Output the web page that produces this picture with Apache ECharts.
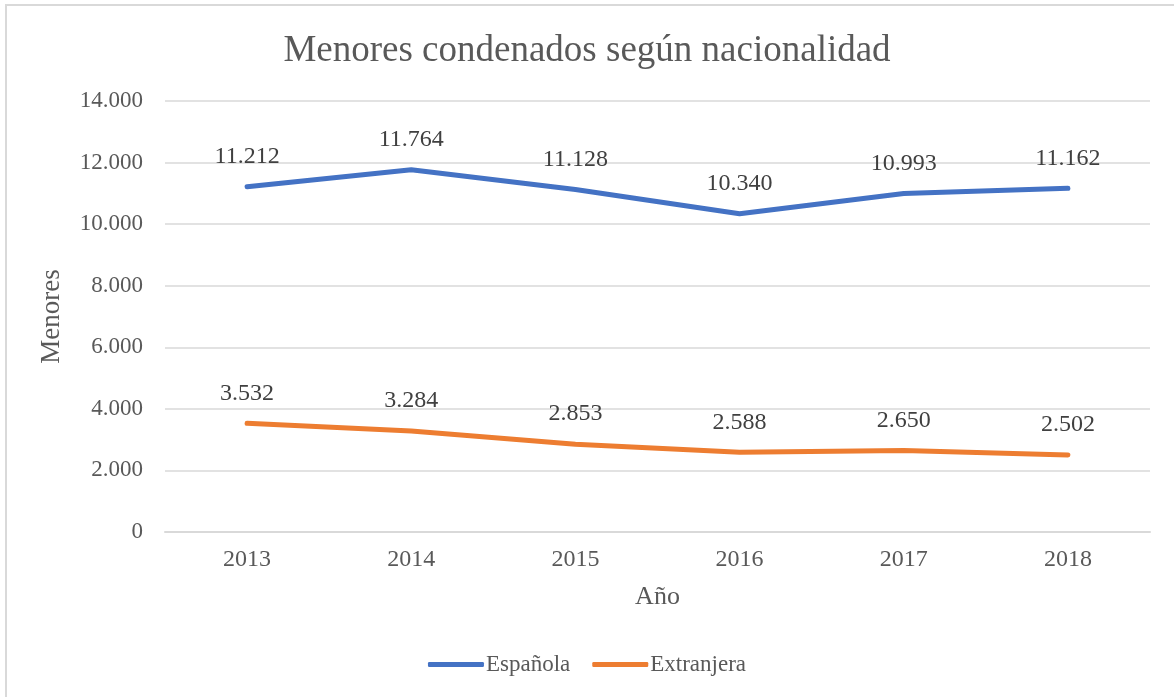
<!DOCTYPE html>
<html>
<head>
<meta charset="utf-8">
<script src="https://cdn.jsdelivr.net/npm/echarts@6/dist/echarts.min.js"></script>
<style>
  html, body { margin: 0; padding: 0; background: #fff; }
  #chart { width: 1174px; height: 697px; }
</style>
</head>
<body>
<div id="chart"></div>
<script>
const years = ['2013', '2014', '2015', '2016', '2017', '2018']
const espanola = [11212, 11764, 11128, 10340, 10993, 11162]
const extranjera = [3532, 3284, 2853, 2588, 2650, 2502]

// formato con punto de miles
const fmt = v => String(v).replace(/\B(?=(\d{3})+(?!\d))/g, '.')

const font = 'Liberation Serif'
const txt = '#595959'

const chart = echarts.init(document.getElementById('chart'))
const labelCfg = {
  show: true,
  position: 'top',
  distance: 18,
  fontFamily: font,
  fontSize: 24,
  color: '#404040',
  formatter: p => fmt(p.value)
}

chart.setOption({
  animation: false,
  graphic: [{
    type: 'rect',
    shape: { x: 6, y: 5, width: 1220, height: 740 },
    style: { fill: 'none', stroke: '#d9d9d9', lineWidth: 2 }
  }],
  title: {
    text: 'Menores condenados según nacionalidad',
    left: 'center',
    top: 28,
    textStyle: { fontFamily: font, fontSize: 37, fontWeight: 'normal', color: txt }
  },
  legend: {
    bottom: 16,
    left: 'center',
    itemWidth: 56,
    itemHeight: 5,
    itemGap: 22,
    icon: 'roundRect',
    textStyle: { fontFamily: font, fontSize: 23, color: txt, padding: [0, 0, 0, -3] },
    data: ['Española', 'Extranjera']
  },
  grid: { left: 165, right: 24, top: 101, bottom: 165 },
  xAxis: {
    type: 'category',
    data: years,
    name: 'Año',
    nameLocation: 'middle',
    nameGap: 52,
    nameTextStyle: { fontFamily: font, fontSize: 26, color: txt },
    axisLine: { lineStyle: { color: '#d9d9d9', width: 2 } },
    axisTick: { show: false },
    axisLabel: { fontFamily: font, fontSize: 24, color: txt, margin: 16 }
  },
  yAxis: {
    type: 'value',
    min: 0,
    max: 14000,
    interval: 2000,
    name: 'Menores',
    nameLocation: 'middle',
    nameGap: 100,
    nameTextStyle: { fontFamily: font, fontSize: 27, color: txt },
    axisLine: { show: false },
    axisTick: { show: false },
    splitLine: { lineStyle: { color: '#d9d9d9', width: 1.5 } },
    axisLabel: { fontFamily: font, fontSize: 23, color: txt, margin: 22, formatter: fmt }
  },
  series: [
    {
      name: 'Española',
      type: 'line',
      data: espanola,
      symbol: 'circle',
      symbolSize: 0,
      showSymbol: true,
      lineStyle: { color: '#4472C4', width: 5, cap: 'round' },
      itemStyle: { color: '#4472C4' },
      label: labelCfg
    },
    {
      name: 'Extranjera',
      type: 'line',
      data: extranjera,
      symbol: 'circle',
      symbolSize: 0,
      showSymbol: true,
      lineStyle: { color: '#ED7D31', width: 5, cap: 'round' },
      itemStyle: { color: '#ED7D31' },
      label: labelCfg
    }
  ]
})
</script>
</body>
</html>
